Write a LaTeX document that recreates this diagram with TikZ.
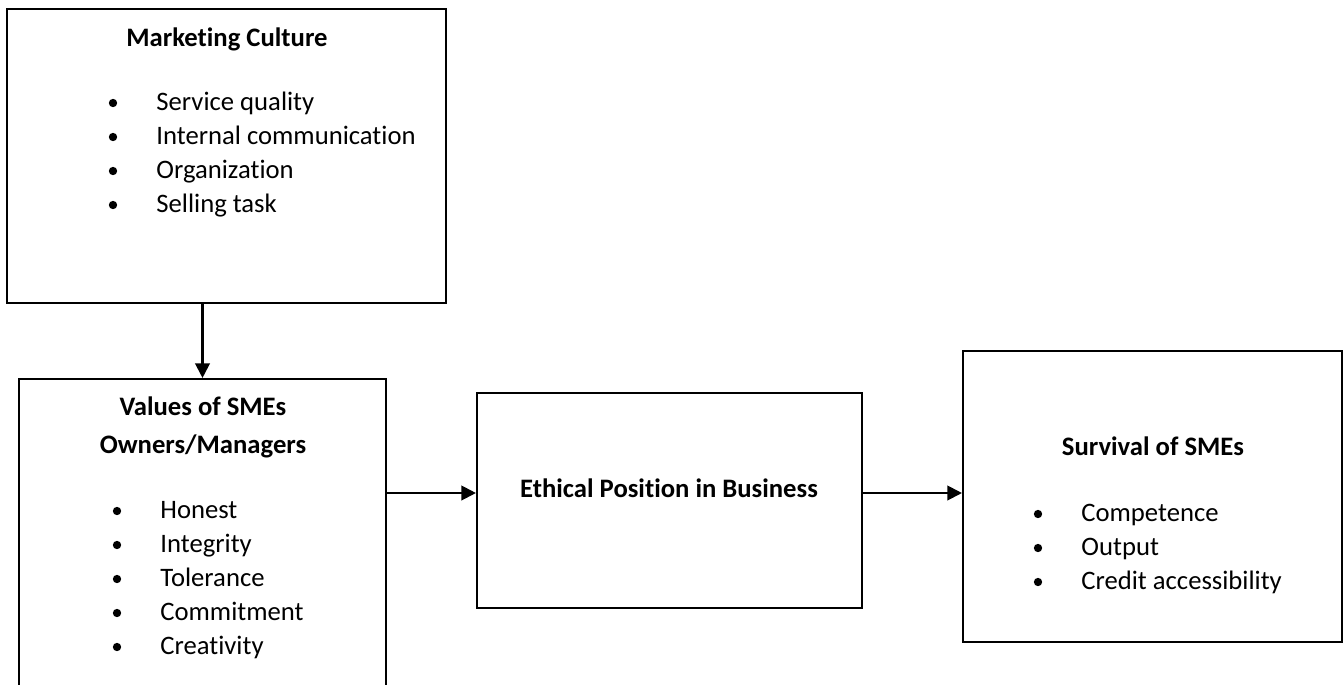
\documentclass[tikz,border=0pt]{standalone}
\usepackage{fontspec}
\setmainfont{Carlito}[Ligatures=NoCommon]
\usetikzlibrary{arrows.meta}

\tikzset{
  blockbox/.style={draw, line width=1pt, inner sep=0pt},
  head/.style={font=\fontsize{12.8}{15}\selectfont\bfseries, anchor=base},
  item/.style={font=\fontsize{12.8}{15}\selectfont, anchor=base west, inner sep=0pt},
  dot/.style={circle, fill, inner sep=0pt, minimum size=4pt},
  link/.style={line width=1pt, -{Triangle[length=7pt,width=7pt]}}
}

\begin{document}
\begin{tikzpicture}[x=0.48pt, y=-0.48pt]
      \useasboundingbox (0,0) rectangle (1343,685);
      % boxes
      \node[blockbox, minimum width=210.72pt, minimum height=141.12pt] (mc) at (226.5,156) {};
      \node[blockbox, minimum width=176.16pt, minimum height=154.08pt] (val) at (202.5,539.5) {};
      \node[blockbox, minimum width=184.8pt, minimum height=103.2pt] (eth) at (669.5,500.5) {};
      \node[blockbox, minimum width=181.92pt, minimum height=139.68pt] (surv) at (1152.5,496.5) {};
      % titles
      \node[head] (mctitle) at (227,46) {Marketing Culture};
      \node[head] (valtitle) at (203,415) {Values of SMEs};
      \node[head] (valtitlee) at (203,453) {Owners/Managers};
      \node[head] (ethtitle) at (669,497) {Ethical Position in Business};
      \node[head] (survtitle) at (1153,455) {Survival of SMEs};
      % lists
      \foreach \t [count=\i] in {Service quality, Internal communication, Organization, Selling task} {
        \node[item] (mc\i) at (156,76+34*\i) {\t};
        \node[dot] (mcdot\i) at (113,69+34*\i) {};
      }
      \foreach \t [count=\i] in {Honest, Integrity, Tolerance, Commitment, Creativity} {
        \node[item] (val\i) at (160,484+34*\i) {\t};
        \node[dot] (valdot\i) at (117,477+34*\i) {};
      }
      \foreach \t [count=\i] in {Competence, Output, Credit accessibility} {
        \node[item] (surv\i) at (1081,487+34*\i) {\t};
        \node[dot] (survdot\i) at (1038,480+34*\i) {};
      }
      % arrows
      \coordinate (row) at (0,493);
      \draw[link] (val.north |- mc.south) -- (val.north);
      \draw[link] (val.east |- row) -- (eth.west |- row);
      \draw[link] (eth.east |- row) -- (surv.west |- row);
    \end{tikzpicture}
\end{document}
